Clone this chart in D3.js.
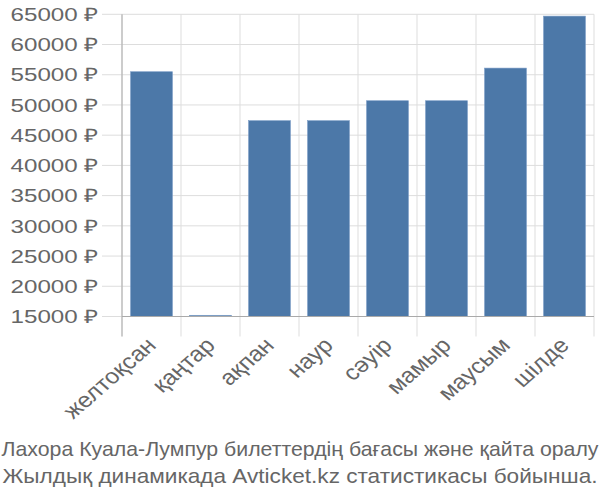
<!DOCTYPE html>
<html><head><meta charset="utf-8">
<script src="https://cdn.jsdelivr.net/npm/d3@7"></script>
<style>body{margin:0;background:#fff}svg{display:block}</style>
</head><body>
<svg id="c" width="600" height="500"></svg>
<script>
const months = ["желтоқсан","қаңтар","ақпан","наур","сәуір","мамыр","маусым","шілде"];
const prices = [55500, 15200, 47400, 47400, 50700, 50700, 56100, 64700];
const yTicks = [15000,20000,25000,30000,35000,40000,45000,50000,55000,60000,65000];
const titleLines = ["Лахора Куала-Лумпур билеттердің бағасы және қайта оралу","Жылдық динамикада Avticket.kz статистикасы бойынша."];

(function(){
const svg = d3.select("#c");
const font = "Liberation Sans, Arial, sans-serif";
const L = 122, R = 594, T = 14.3, B = 316.5;
const SX = 1.3, SXL = 1.15;
const x = d3.scaleBand().domain(months).range([L, R]).paddingInner(0.29).paddingOuter(0.145);
const xg = d3.scaleBand().domain(months).range([L, R]);
const y = d3.scaleLinear().domain([15000, 65000]).range([B, T]);

svg.append("g").selectAll("line").data(yTicks).join("line")
  .attr("x1", L - 20).attr("x2", R).attr("y1", d => y(d)).attr("y2", d => y(d))
  .attr("stroke", "#ddd").attr("stroke-width", 1);
const vx = months.map(m => xg(m)).concat([R]);
svg.append("g").selectAll("line").data(vx).join("line")
  .attr("x1", d => d).attr("x2", d => d).attr("y1", T).attr("y2", B + 20)
  .attr("stroke", "#ddd").attr("stroke-width", 1);

svg.append("g").selectAll("rect").data(prices).join("rect")
  .attr("x", (d, i) => x(months[i])).attr("width", x.bandwidth())
  .attr("y", d => y(d)).attr("height", d => B - y(d))
  .attr("fill", "#4c78a8").attr("stroke", "#7a9cc6").attr("stroke-width", 0.6);

svg.append("line").attr("x1", L).attr("x2", L).attr("y1", T).attr("y2", B + 20).attr("stroke", "#aaa");
svg.append("line").attr("x1", L).attr("x2", R).attr("y1", B).attr("y2", B).attr("stroke", "#aaa");

svg.append("g").selectAll("text").data(yTicks).join("text")
  .attr("transform", d => `translate(${L - 23},${y(d)}) scale(${SX},1)`)
  .attr("dy", "0.36em")
  .attr("text-anchor", "end").attr("font-family", font).attr("font-size", 18.6).attr("fill", "#666")
  .text(d => d + " ₽");

svg.append("g").selectAll("text").data(months).join("text")
  .attr("transform", m => `translate(${xg(m) + xg.bandwidth()/2 + 6},${B + 30}) scale(${SXL},1) rotate(-45)`)
  .attr("text-anchor", "end").attr("font-family", font).attr("font-size", 21.5).attr("fill", "#666")
  .text(m => m);

svg.append("g").selectAll("text").data(titleLines).join("text")
  .attr("x", 300).attr("y", (d, i) => 456 + i * 27)
  .attr("text-anchor", "middle").attr("font-family", font).attr("font-size", 21).attr("fill", "#666")
  .attr("textLength", (d, i) => i === 0 ? 597 : 595).attr("lengthAdjust", "spacingAndGlyphs")
  .text(d => d);
})();
</script>
</body></html>
